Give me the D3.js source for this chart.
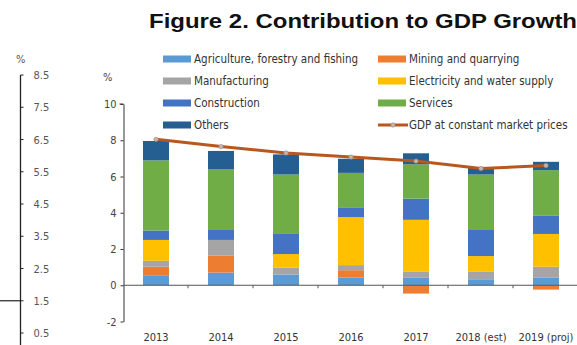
<!DOCTYPE html>
<html>
<head>
<meta charset="utf-8">
<script src="https://cdn.jsdelivr.net/npm/d3@7"></script>
<style>
  body { margin: 0; background: #fff; }
  svg { display: block; }
</style>
</head>
<body>
<div id="chart"></div>
<script>
const years = ["2013", "2014", "2015", "2016", "2017", "2018 (est)", "2019 (proj)"];

const sectors = [
  "Agriculture, forestry and fishing",
  "Mining and quarrying",
  "Manufacturing",
  "Electricity and water supply",
  "Construction",
  "Services",
  "Others"
];
const sectorColors = ["#5B9BD5", "#ED7D31", "#A5A5A5", "#FFC000", "#4472C4", "#70AD47", "#255E91"];

// contributions per sector, one value per year
const agriculture   = [0.52, 0.70, 0.59, 0.43, 0.41, 0.33, 0.41];
const mining        = [0.50, 0.93, 0.00, 0.40, -0.46, 0.00, -0.24];
const manufacturing = [0.33, 0.87, 0.39, 0.28, 0.33, 0.41, 0.61];
const electricity   = [1.15, 0.00, 0.74, 2.65, 2.87, 0.87, 1.81];
const construction  = [0.52, 0.59, 1.11, 0.54, 1.17, 1.48, 1.00];
const services      = [3.87, 3.30, 3.28, 1.90, 1.89, 3.02, 2.52];
const others        = [1.07, 1.02, 1.11, 0.78, 0.61, 0.37, 0.46];

const gdp = [8.05, 7.65, 7.30, 7.07, 6.85, 6.44, 6.61];

const yTicks = [-2, 0, 2, 4, 6, 8, 10];
const leftTicks = [0.5, 1.5, 2.5, 3.5, 4.5, 5.5, 6.5, 7.5, 8.5];

const series = [agriculture, mining, manufacturing, electricity, construction, services, others];

const rows = years.map((y, i) => {
  const r = { year: y };
  sectors.forEach((s, k) => r[s] = series[k][i]);
  return r;
});

const width = 577, height = 345;
const svg = d3.select("#chart").append("svg")
  .attr("width", width)
  .attr("height", height);

const font = "'Liberation Sans Narrow', 'DejaVu Sans Condensed', Arial, sans-serif";

// title
svg.append("text")
  .attr("x", 149)
  .attr("y", 28)
  .attr("textLength", 428)
  .attr("lengthAdjust", "spacingAndGlyphs")
  .attr("font-family", "'Liberation Sans', Arial, sans-serif")
  .attr("font-weight", "bold")
  .attr("font-size", "21px")
  .attr("fill", "#111")
  .text("Figure 2. Contribution to GDP Growth");

// leftover axis from neighbouring figure
const yLeft = d3.scaleLinear().domain([0.5, 8.5]).range([333, 75]);
const leftAxis = svg.append("g").attr("transform", "translate(20.5,0)");
leftAxis.append("line")
  .attr("y1", yLeft(8.5)).attr("y2", height)
  .attr("stroke", "#222").attr("stroke-width", 1.3);
leftAxis.selectAll(".lt").data(leftTicks).enter().append("line")
  .attr("x1", 0).attr("x2", 3)
  .attr("y1", d => yLeft(d)).attr("y2", d => yLeft(d))
  .attr("stroke", "#222");
leftAxis.selectAll(".ll").data(leftTicks).enter().append("text")
  .attr("x", 13)
  .attr("y", d => yLeft(d) + 4)
  .attr("font-family", font)
  .attr("font-size", "11px")
  .attr("fill", "#555")
  .text(d => d.toFixed(1));
svg.append("text")
  .attr("x", 16).attr("y", 63)
  .attr("font-family", font)
  .attr("font-size", "11px")
  .attr("fill", "#555")
  .text("%");
svg.append("line")
  .attr("x1", 0).attr("x2", 20.5)
  .attr("y1", yLeft(1.5)).attr("y2", yLeft(1.5))
  .attr("stroke", "#333").attr("stroke-width", 1.3);

// main chart
const x = d3.scaleBand().domain(years).range([123.5, 578.5]).paddingInner(0.6).paddingOuter(0.3);
const y = d3.scaleLinear().domain([-2, 10]).range([321.5, 104]);

const stack = d3.stack().keys(sectors).offset(d3.stackOffsetDiverging);
const layers = stack(rows);

svg.append("g").selectAll("g")
  .data(layers)
  .enter().append("g")
  .attr("fill", (d, i) => sectorColors[i])
  .selectAll("rect")
  .data(d => d)
  .enter().append("rect")
  .attr("x", d => x(d.data.year))
  .attr("width", x.bandwidth())
  .attr("y", d => y(Math.max(d[0], d[1])))
  .attr("height", d => Math.abs(y(d[0]) - y(d[1])));

// y axis
const yAxis = svg.append("g")
  .attr("transform", "translate(123.5,0)")
  .call(d3.axisLeft(y).tickValues(yTicks).tickFormat(d => String(d)).tickSize(3).tickSizeOuter(0));
yAxis.select(".domain").attr("stroke", "#333");
yAxis.selectAll(".tick line").attr("stroke", "#333");
yAxis.selectAll("text")
  .attr("font-family", font)
  .attr("font-size", "11px")
  .attr("fill", "#444")
  .attr("x", -7);
yAxis.append("line")
  .attr("x1", -4).attr("x2", 0)
  .attr("y1", y(10)).attr("y2", y(10))
  .attr("stroke", "#333");

svg.append("text")
  .attr("x", 103).attr("y", 81)
  .attr("font-family", font)
  .attr("font-size", "11px")
  .attr("fill", "#444")
  .text("%");

// zero line with category boundary ticks
svg.append("line")
  .attr("x1", 123.5).attr("x2", 578)
  .attr("y1", y(0)).attr("y2", y(0))
  .attr("stroke", "#555").attr("stroke-width", 1.2);
svg.selectAll(".xt").data(years.slice(1)).enter().append("line")
  .attr("x1", d => x(d) - x.bandwidth() * 0.75 - 0.5)
  .attr("x2", d => x(d) - x.bandwidth() * 0.75 - 0.5)
  .attr("y1", y(0)).attr("y2", y(0) + 3)
  .attr("stroke", "#555");

svg.selectAll(".xl").data(years).enter().append("text")
  .attr("x", d => x(d) + x.bandwidth() / 2)
  .attr("y", 341)
  .attr("text-anchor", "middle")
  .attr("font-family", font)
  .attr("font-size", "11px")
  .attr("fill", "#333")
  .text(d => d);

// GDP line
const line = d3.line()
  .x((d, i) => x(years[i]) + x.bandwidth() / 2)
  .y(d => y(d));
svg.append("path")
  .datum(gdp)
  .attr("fill", "none")
  .attr("stroke", "#B8571E")
  .attr("stroke-width", 3)
  .attr("d", line);
svg.selectAll(".gm").data(gdp).enter().append("circle")
  .attr("cx", (d, i) => x(years[i]) + x.bandwidth() / 2)
  .attr("cy", d => y(d))
  .attr("r", 2.2)
  .attr("fill", "#c9b3aa")
  .attr("stroke", "#9a8a84")
  .attr("stroke-width", 0.6);

// legend
const legendItems = [
  { name: sectors[0], color: sectorColors[0], col: 0, row: 0 },
  { name: sectors[1], color: sectorColors[1], col: 1, row: 0 },
  { name: sectors[2], color: sectorColors[2], col: 0, row: 1 },
  { name: sectors[3], color: sectorColors[3], col: 1, row: 1 },
  { name: sectors[4], color: sectorColors[4], col: 0, row: 2 },
  { name: sectors[5], color: sectorColors[5], col: 1, row: 2 },
  { name: sectors[6], color: sectorColors[6], col: 0, row: 3 },
  { name: "GDP at constant market prices", color: "#B8571E", col: 1, row: 3, line: true }
];
const colX = [163, 378];
const legend = svg.selectAll(".lg").data(legendItems).enter().append("g")
  .attr("transform", d => `translate(${colX[d.col]},${59 + d.row * 22})`);
legend.filter(d => !d.line).append("rect")
  .attr("x", 0).attr("y", -3.5)
  .attr("width", 28).attr("height", 7)
  .attr("fill", d => d.color);
legend.filter(d => d.line).append("line")
  .attr("x1", 0).attr("x2", 30)
  .attr("stroke", d => d.color).attr("stroke-width", 3);
legend.filter(d => d.line).append("circle")
  .attr("cx", 15).attr("r", 2.2)
  .attr("fill", "#c9b3aa").attr("stroke", "#9a8a84").attr("stroke-width", 0.6);
legend.append("text")
  .attr("x", 31)
  .attr("y", 4)
  .attr("font-family", font)
  .attr("font-size", "11.5px")
  .attr("fill", "#333")
  .text(d => d.name);
</script>
</body>
</html>
